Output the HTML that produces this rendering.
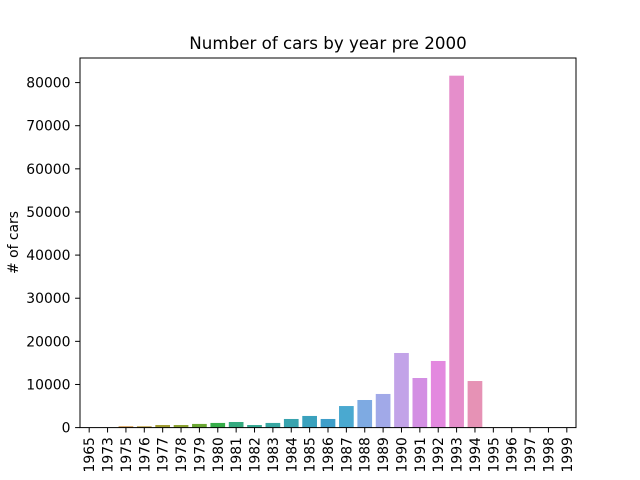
<!DOCTYPE html>
<html><head><meta charset="utf-8"><style>
body{margin:0;background:#fff}
svg{display:block;font-family:"DejaVu Sans","Liberation Sans",sans-serif}
</style></head><body>
<svg id="c" width="640" height="480">
<text x="328" y="49" font-size="16.7" text-anchor="middle">Number of cars by year pre 2000</text>
<text transform="translate(18,242.5) rotate(-90)" font-size="13.9" text-anchor="middle"># of cars</text>
<text x="328" y="491" font-size="13.9" text-anchor="middle">Year of Production</text>
<g id="bars"></g><g id="xt"></g><g id="yt"></g>
<rect x="80" y="58" width="496" height="369.6" fill="none" stroke="#000" stroke-width="1"/>
</svg>
<script>
const categories=["1965","1973","1975","1976","1977","1978","1979","1980","1981","1982","1983","1984","1985","1986","1987","1988","1989","1990","1991","1992","1993","1994","1995","1996","1997","1998","1999"];
const counts=[10,20,300,300,600,600,850,1080,1300,600,1080,2000,2700,2000,5000,6400,7800,17300,11500,15450,81600,10800,5,3,2,2,2];
const yTicks=[0,10000,20000,30000,40000,50000,60000,70000,80000];
const colors=["#f77189","#e8754a","#c68833","#b39431","#a09c31","#8ba131","#6aa733","#36ad49","#35aa7f","#36a893","#37a6a1","#38a3ae","#3aa1bd","#3e9ec9","#4aa9d0","#7eaae2","#a1a9e8","#c2a3e8","#d38fe3","#e388df","#e58ecb","#e692b5","#f5709e","#f7719a","#f77194","#f7728f","#f77189"];
const NS="http://www.w3.org/2000/svg";
const L=80,R=576,T=58,B=427.6;
const n=categories.length;
const step=(R-L)/n;
const x=i=>L+step*(i+0.5);
const y=v=>B-(v/85700)*(B-T);
const bars=document.getElementById('bars'),xt=document.getElementById('xt'),yt=document.getElementById('yt');
categories.forEach((c,i)=>{
  const r=document.createElementNS(NS,'rect');
  r.setAttribute('x',x(i)-step*0.4);r.setAttribute('width',step*0.8);
  r.setAttribute('y',y(counts[i]));r.setAttribute('height',B-y(counts[i]));
  r.setAttribute('fill',colors[i]);
  
  
  bars.appendChild(r);
  const t=document.createElementNS(NS,'line');
  t.setAttribute('x1',x(i));t.setAttribute('x2',x(i));t.setAttribute('y1',B);t.setAttribute('y2',B+4.9);t.setAttribute('stroke','#000');
  
  
  xt.appendChild(t);
  const l=document.createElementNS(NS,'text');
  l.setAttribute('transform','translate('+(x(i)+5)+','+(B+9.5)+') rotate(-90)');
  l.setAttribute('font-size','13.9');l.setAttribute('text-anchor','end');
  l.textContent=c;
  
  
  xt.appendChild(l);
});
yTicks.forEach(v=>{
  const t=document.createElementNS(NS,'line');
  t.setAttribute('x1',L-4.9);t.setAttribute('x2',L);t.setAttribute('y1',y(v));t.setAttribute('y2',y(v));t.setAttribute('stroke','#000');
  
  
  yt.appendChild(t);
  const l=document.createElementNS(NS,'text');
  l.setAttribute('x',L-9.5);l.setAttribute('y',y(v)+5);
  l.setAttribute('font-size','13.9');l.setAttribute('text-anchor','end');
  l.textContent=v;
  
  
  yt.appendChild(l);
});
</script>
</body></html>
